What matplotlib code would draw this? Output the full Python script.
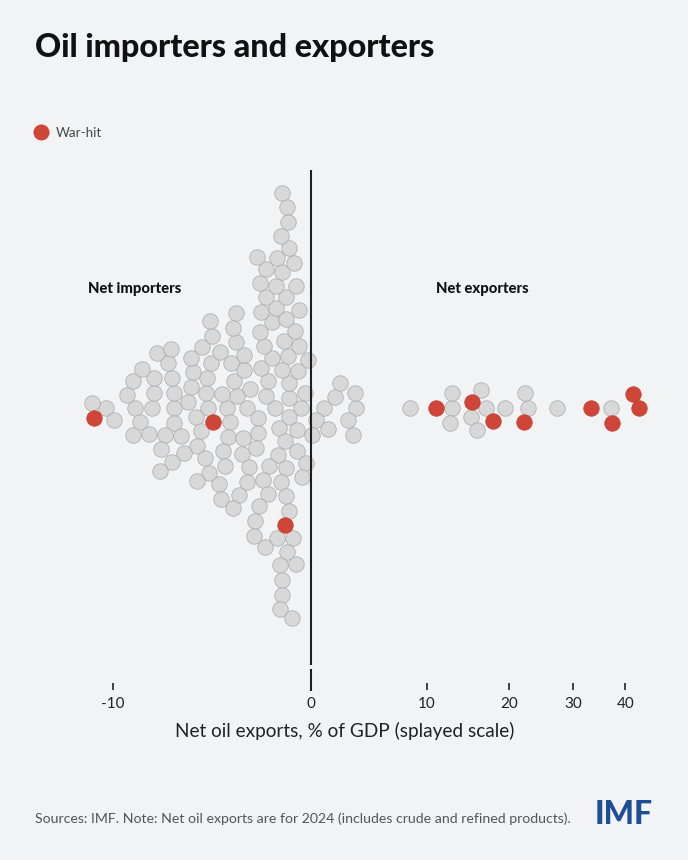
import numpy as np
import matplotlib
matplotlib.use("Agg")
import matplotlib.pyplot as plt
from matplotlib.lines import Line2D

# ---------------- data ----------------
# Net oil exports, % of GDP (2024), one value per economy
net_oil_exports = [
    -10.34, -3.22, 0.93, 8.30, 10.93, 12.74, 16.84, 19.45, 22.67, 27.32, 33.29, 37.15, 43.03,
    -8.87, -8.02, -6.93, -1.83,
    -5.22, -0.51, 3.43,
    -4.23,
    -11.06, -6.23,
    15.12,
    -5.82,
    -10.94, -1.10,
    -1.11,
    -3.75,
    1.75,
    -2.69,
    -2.29,
    -9.28, 2.79,
    -9.93, 0.35,
    17.79,
    -8.64,
    -4.93, 41.66,
    -0.30, 1.22, 16.28,
    -7.93, -6.92, -6.94, -5.30, -3.08, 12.52, 12.78, 22.22, 22.16, 37.35,
    3.30,
    -4.09,
    -1.63,
    -6.08,
    -2.16,
    -0.72, 15.03,
    -5.57,
    2.13,
    -1.12,
    -3.87,
    -8.17,
    -9.01,
    3.19,
    -7.36,
    0.09,
    -6.57, -2.70,
    -8.97,
    15.77,
    -5.25,
    -7.04,
    -4.18,
    -4.51,
    -1.31,
    -2.53,
    -3.42,
    -5.97,
    -3.37, -0.67,
    -7.91,
    -5.74,
    -1.45,
    -8.52,
    -7.59,
    -0.71,
    -7.22,
    -2.76,
    -5.07,
    -5.34, -4.46,
    -6.40,
    -1.65,
    -0.15,
    -1.95,
    -7.01, -3.47,
    -6.06,
    -3.36,
    -1.18,
    -0.27,
    -7.79,
    -4.58,
    -2.14,
    -7.63,
    -5.14,
    -5.52,
    -1.28,
    -4.03,
    -2.39,
    -0.62,
    -3.12,
    -3.77,
    -1.38,
    -7.05,
    -5.00,
    -5.77,
    -4.66,
    -2.41,
    -1.52,
    -3.25,
    -4.33,
    -0.47, -3.94,
    -0.80,
    -1.26,
    -2.58,
    -5.09,
    -1.98,
    -3.62,
    -4.57,
    -1.24,
    -3.78,
    -2.17, -1.09,
    -2.52,
    -0.63,
    -1.78,
    -3.95,
    -2.64,
    -1.27,
    -2.29,
    -1.30,
    -1.77,
    -2.84,
    -2.56,
    -0.74,
    -0.89,
    -1.70,
    -2.27,
    -1.46,
    -2.88,
    -1.20,
    -0.86,
    -2.32,
    -2.73,
    -1.73,
    -1.55,
    -1.10,
    -1.45,
    -1.50,
    -0.76,
    -1.18,
    -1.44,
    -1.23,
    -1.57,
    -0.94,
    -1.47,
]
war_hit_values = [10.93, 33.29, 43.03, 15.12, -10.94, 17.79, -4.93, 41.66, 22.16, 37.35, -1.30]

tick_values = [-10, 0, 10, 20, 30, 40]
tick_labels = ["-10", "0", "10", "20", "30", "40"]

title = "Oil importers and exporters"
legend_label = "War-hit"
left_label = "Net importers"
right_label = "Net exporters"
x_label = "Net oil exports, % of GDP (splayed scale)"
source = "Sources: IMF. Note: Net oil exports are for 2024 (includes crude and refined products)."

# ---------------- splayed scale ----------------
W, H, DPI = 688, 860, 100
NEG_SLOPE = 19.8      # px per unit for importers (linear)
POS_C, POS_A = 286.0, 20.0   # log compression for exporters
ZERO_PX = 311.0

def fwd(v):
    v = np.asarray(v, dtype=float)
    return np.where(v < 0, NEG_SLOPE * v, POS_C * np.log1p(np.clip(v, 0, None) / POS_A))

def inv(u):
    u = np.asarray(u, dtype=float)
    return np.where(u < 0, u / NEG_SLOPE, POS_A * np.expm1(np.clip(u, 0, None) / POS_C))


def beeswarm(u, d):
    """Greedy swarm: each dot goes to the free spot nearest the centre line;
    ties go to the side with fewer neighbours (upper side if balanced)."""
    ys = np.zeros(len(u))
    for i in range(len(u)):
        x = u[i]
        px, py = u[:i], ys[:i]
        near = np.abs(px - x) < d
        nx, ny = px[near], py[near]
        wide = np.abs(px - x) < 2 * d
        bal = np.sum(np.sign(py[wide]))
        cands = [0.0]
        for xj, yj in zip(nx, ny):
            h = np.sqrt(d * d - (x - xj) ** 2)
            cands.extend([yj + h, yj - h])
        cands = np.array(cands)
        side = -1.0 if bal >= 0 else 1.0
        order = np.lexsort((-cands * side, np.round(np.abs(cands), 3)))
        for c in cands[order]:
            if np.all((nx - x) ** 2 + (ny - c) ** 2 >= d * d - 1e-6):
                ys[i] = c
                break
    return ys


values = np.array(net_oil_exports)
is_war = np.isin(values, war_hit_values)
u = fwd(values)
offsets = beeswarm(u, 15.0)
CENTER_Y = 407.7
yv = CENTER_Y + offsets

# ---------------- figure ----------------
BG = "#f2f3f5"
GREY = "#d4d4d4"
GREY_EDGE = "#a8a8a8"
RED = "#cf4638"

plt.rcParams["font.family"] = ["Lato", "DejaVu Sans"]
fig = plt.figure(figsize=(W / DPI, H / DPI), dpi=DPI, facecolor=BG)
ax = fig.add_axes([0, 0, 1, 1])
ax.set_facecolor(BG)
ax.set_xscale("function", functions=(fwd, inv))
ax.set_xlim(float(inv(-ZERO_PX)), float(inv(W - ZERO_PX)))
ax.set_ylim(H, 0)
ax.axis("off")

size = (15.5 * 72 / DPI) ** 2
ax.scatter(values[~is_war], yv[~is_war], s=size, facecolor=GREY, edgecolor=GREY_EDGE,
           linewidth=0.6, alpha=0.85, zorder=2)
ax.scatter(values[is_war], yv[is_war], s=size, facecolor=RED, edgecolor="#c23e31",
           linewidth=0.5, zorder=3)

# zero line and ticks
ax.plot([0, 0], [170, 665], color="#1e1e1e", lw=1.5, zorder=4, solid_capstyle="butt")
ax.plot([0, 0], [669, 691], color="#1e1e1e", lw=1.5, zorder=4, solid_capstyle="butt")
for t, lab in zip(tick_values, tick_labels):
    if t != 0:
        ax.plot([t, t], [683, 690], color="#333333", lw=1.3, solid_capstyle="butt")
    ax.text(t, 704, lab, ha="center", va="center", fontsize=11, color="#222222")

def ftext(px, py, s, **kw):
    fig.text(px / W, 1 - py / H, s, **kw)

ftext(35, 47, title, fontsize=23.2, weight="black", color="#111111", va="center")
ftext(88, 288.5, left_label, fontsize=10.6, weight="black", color="#111111", va="center")
ftext(436, 288.5, right_label, fontsize=10.6, weight="black", color="#111111", va="center")
ftext(345, 731, x_label, fontsize=13.7, color="#222222", va="center", ha="center")
ftext(35, 818.5, source, fontsize=10.2, color="#555555", va="center")
ftext(624, 814, "IMF", fontsize=23, weight="black", color="#1f4e96", va="center", ha="center")

handle = Line2D([], [], marker="o", linestyle="none", markersize=14.6 * 72 / DPI,
                markerfacecolor=RED, markeredgecolor=RED)
fig.legend([handle], [legend_label], loc="center left",
           bbox_to_anchor=(28 / W, 1 - 132.7 / H), frameon=False,
           handletextpad=0.5, borderaxespad=0, handlelength=1.2,
           prop={"size": 9.6}, labelcolor="#444444")

fig.savefig("out.png", dpi=DPI, facecolor=BG)
